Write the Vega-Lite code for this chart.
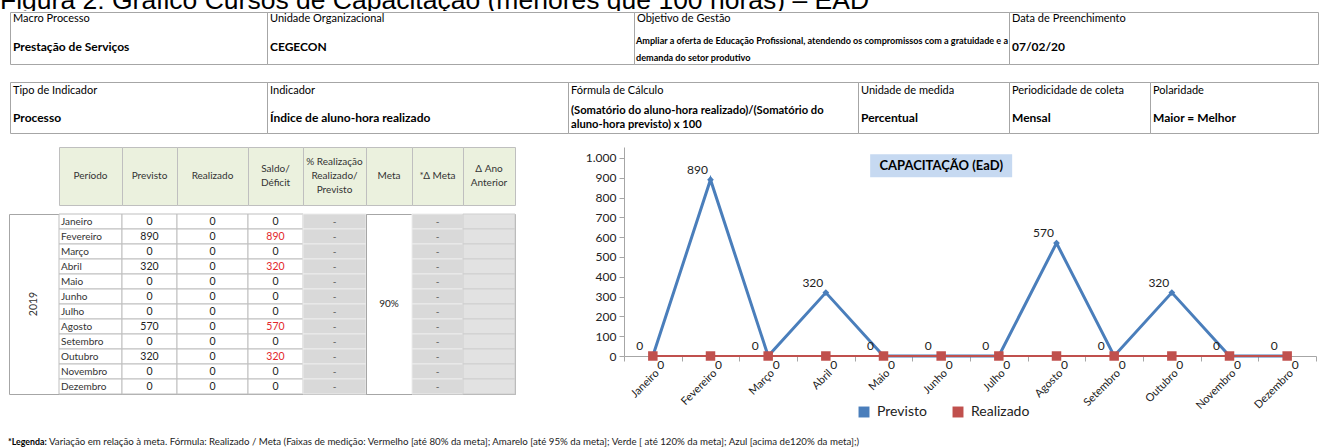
{
"$schema": "https://vega.github.io/schema/vega-lite/v6.json",
"padding": 0,
"background": "white",
"spacing": 0,
"config": {"view": {"stroke": "#A6A6A6"}, "concat": {"spacing": 0}, "font": "Lato", "axis": {"labelFont": "Lato"}, "axisY": {"tickCount": 11, "labelOverlap": false}, "legend": {"labelFont": "Lato"}},
"datasets": {
"meses": [
{"periodo": "Janeiro", "previsto": 0, "realizado": 0, "saldo": 0, "pct": "-", "dmeta": "-"},
{"periodo": "Fevereiro", "previsto": 890, "realizado": 0, "saldo": 890, "pct": "-", "dmeta": "-"},
{"periodo": "Março", "previsto": 0, "realizado": 0, "saldo": 0, "pct": "-", "dmeta": "-"},
{"periodo": "Abril", "previsto": 320, "realizado": 0, "saldo": 320, "pct": "-", "dmeta": "-"},
{"periodo": "Maio", "previsto": 0, "realizado": 0, "saldo": 0, "pct": "-", "dmeta": "-"},
{"periodo": "Junho", "previsto": 0, "realizado": 0, "saldo": 0, "pct": "-", "dmeta": "-"},
{"periodo": "Julho", "previsto": 0, "realizado": 0, "saldo": 0, "pct": "-", "dmeta": "-"},
{"periodo": "Agosto", "previsto": 570, "realizado": 0, "saldo": 570, "pct": "-", "dmeta": "-"},
{"periodo": "Setembro", "previsto": 0, "realizado": 0, "saldo": 0, "pct": "-", "dmeta": "-"},
{"periodo": "Outubro", "previsto": 320, "realizado": 0, "saldo": 320, "pct": "-", "dmeta": "-"},
{"periodo": "Novembro", "previsto": 0, "realizado": 0, "saldo": 0, "pct": "-", "dmeta": "-"},
{"periodo": "Dezembro", "previsto": 0, "realizado": 0, "saldo": 0, "pct": "-", "dmeta": "-"}
],
"serie": [
{"mes": "Janeiro", "serie": "Previsto", "valor": 0},
{"mes": "Fevereiro", "serie": "Previsto", "valor": 890},
{"mes": "Março", "serie": "Previsto", "valor": 0},
{"mes": "Abril", "serie": "Previsto", "valor": 320},
{"mes": "Maio", "serie": "Previsto", "valor": 0},
{"mes": "Junho", "serie": "Previsto", "valor": 0},
{"mes": "Julho", "serie": "Previsto", "valor": 0},
{"mes": "Agosto", "serie": "Previsto", "valor": 570},
{"mes": "Setembro", "serie": "Previsto", "valor": 0},
{"mes": "Outubro", "serie": "Previsto", "valor": 320},
{"mes": "Novembro", "serie": "Previsto", "valor": 0},
{"mes": "Dezembro", "serie": "Previsto", "valor": 0},
{"mes": "Janeiro", "serie": "Realizado", "valor": 0},
{"mes": "Fevereiro", "serie": "Realizado", "valor": 0},
{"mes": "Março", "serie": "Realizado", "valor": 0},
{"mes": "Abril", "serie": "Realizado", "valor": 0},
{"mes": "Maio", "serie": "Realizado", "valor": 0},
{"mes": "Junho", "serie": "Realizado", "valor": 0},
{"mes": "Julho", "serie": "Realizado", "valor": 0},
{"mes": "Agosto", "serie": "Realizado", "valor": 0},
{"mes": "Setembro", "serie": "Realizado", "valor": 0},
{"mes": "Outubro", "serie": "Realizado", "valor": 0},
{"mes": "Novembro", "serie": "Realizado", "valor": 0},
{"mes": "Dezembro", "serie": "Realizado", "valor": 0}
]
},
"vconcat": [
{"width": 1318, "height": 11, "view": {"stroke": null},
 "data": {"values": [{"t": "Figura 2: Gráfico Cursos de Capacitação (menores que 100 horas) – EAD"}]},
 "mark": {"type": "text", "align": "left", "baseline": "alphabetic", "font": "Liberation Sans", "fontSize": 26.5, "dy": 3.5, "clip": true, "color": "#000"},
 "encoding": {"text": {"field": "t"}, "x": {"datum": 0, "type": "quantitative", "scale": {"domain": [0, 1]}, "axis": null}}},
{"spacing": 0, "bounds": "flush", "hconcat": [
 {"width": 10, "height": 52, "view": {"stroke": null}, "data": {"values": [{}]}, "mark": "text", "encoding": {"text": {"value": ""}}},
 {"width": 257, "height": 52, "data": {"values": [{"l": "Macro Processo", "v": "Prestação de Serviços"}]},
  "encoding": {"x": {"datum": 0, "type": "quantitative", "scale": {"domain": [0, 1]}, "axis": null}},
  "layer": [
   {"mark": {"type": "text", "align": "left", "baseline": "middle", "dx": 3, "dy": -19, "fontSize": 11, "color": "#000"}, "encoding": {"text": {"field": "l"}}},
   {"mark": {"type": "text", "align": "left", "baseline": "middle", "dx": 3, "dy": 9, "fontSize": 12, "fontWeight": "bold", "color": "#000"}, "encoding": {"text": {"field": "v"}}}
  ]},
 {"width": 367, "height": 52, "data": {"values": [{"l": "Unidade Organizacional", "v": "CEGECON"}]},
  "encoding": {"x": {"datum": 0, "type": "quantitative", "scale": {"domain": [0, 1]}, "axis": null}},
  "layer": [
   {"mark": {"type": "text", "align": "left", "baseline": "middle", "dx": 3, "dy": -19, "fontSize": 11, "color": "#000"}, "encoding": {"text": {"field": "l"}}},
   {"mark": {"type": "text", "align": "left", "baseline": "middle", "dx": 3, "dy": 9, "fontSize": 12, "fontWeight": "bold", "color": "#000"}, "encoding": {"text": {"field": "v"}}}
  ]},
 {"width": 375, "height": 52, "data": {"values": [{"l": "Objetivo de Gestão", "v": "Ampliar a oferta de Educação Profissional, atendendo os compromissos com a gratuidade e a\ndemanda do setor produtivo"}]},
  "encoding": {"x": {"datum": 0, "type": "quantitative", "scale": {"domain": [0, 1]}, "axis": null}},
  "layer": [
   {"mark": {"type": "text", "align": "left", "baseline": "middle", "dx": 3, "dy": -19, "fontSize": 11, "color": "#000"}, "encoding": {"text": {"field": "l"}}},
   {"mark": {"type": "text", "align": "left", "baseline": "middle", "dx": 2, "dy": 3, "fontSize": 9.1, "fontWeight": "bold", "lineBreak": "\n", "lineHeight": 17, "color": "#000"}, "encoding": {"text": {"field": "v"}}}
  ]},
 {"width": 309, "height": 52, "data": {"values": [{"l": "Data de Preenchimento", "v": "07/02/20"}]},
  "encoding": {"x": {"datum": 0, "type": "quantitative", "scale": {"domain": [0, 1]}, "axis": null}},
  "layer": [
   {"mark": {"type": "text", "align": "left", "baseline": "middle", "dx": 3, "dy": -19, "fontSize": 11, "color": "#000"}, "encoding": {"text": {"field": "l"}}},
   {"mark": {"type": "text", "align": "left", "baseline": "middle", "dx": 3, "dy": 9, "fontSize": 12, "fontWeight": "bold", "color": "#000"}, "encoding": {"text": {"field": "v"}}}
  ]}
]},
{"width": 10, "height": 16, "view": {"stroke": null}, "data": {"values": [{}]}, "mark": "text", "encoding": {"text": {"value": ""}}},
{"spacing": 0, "bounds": "flush", "hconcat": [
 {"width": 10, "height": 51, "view": {"stroke": null}, "data": {"values": [{}]}, "mark": "text", "encoding": {"text": {"value": ""}}},
 {"width": 257, "height": 51, "data": {"values": [{"l": "Tipo de Indicador", "v": "Processo"}]},
  "encoding": {"x": {"datum": 0, "type": "quantitative", "scale": {"domain": [0, 1]}, "axis": null}},
  "layer": [
   {"mark": {"type": "text", "align": "left", "baseline": "middle", "dx": 3, "dy": -16.5, "fontSize": 11, "color": "#000"}, "encoding": {"text": {"field": "l"}}},
   {"mark": {"type": "text", "align": "left", "baseline": "middle", "dx": 3, "dy": 10.5, "fontSize": 12, "fontWeight": "bold", "color": "#000"}, "encoding": {"text": {"field": "v"}}}
  ]},
 {"width": 301, "height": 51, "data": {"values": [{"l": "Indicador", "v": "Índice de aluno-hora realizado"}]},
  "encoding": {"x": {"datum": 0, "type": "quantitative", "scale": {"domain": [0, 1]}, "axis": null}},
  "layer": [
   {"mark": {"type": "text", "align": "left", "baseline": "middle", "dx": 3, "dy": -16.5, "fontSize": 11, "color": "#000"}, "encoding": {"text": {"field": "l"}}},
   {"mark": {"type": "text", "align": "left", "baseline": "middle", "dx": 3, "dy": 10.5, "fontSize": 12, "fontWeight": "bold", "color": "#000"}, "encoding": {"text": {"field": "v"}}}
  ]},
 {"width": 290, "height": 51, "data": {"values": [{"l": "Fórmula  de Cálculo", "v": "(Somatório do aluno-hora realizado)/(Somatório do\naluno-hora previsto) x 100"}]},
  "encoding": {"x": {"datum": 0, "type": "quantitative", "scale": {"domain": [0, 1]}, "axis": null}},
  "layer": [
   {"mark": {"type": "text", "align": "left", "baseline": "middle", "dx": 3, "dy": -16.5, "fontSize": 11, "color": "#000"}, "encoding": {"text": {"field": "l"}}},
   {"mark": {"type": "text", "align": "left", "baseline": "middle", "dx": 3, "dy": 3, "fontSize": 11.2, "fontWeight": "bold", "lineBreak": "\n", "lineHeight": 14, "color": "#000"}, "encoding": {"text": {"field": "v"}}}
  ]},
 {"width": 151, "height": 51, "data": {"values": [{"l": "Unidade de medida", "v": "Percentual"}]},
  "encoding": {"x": {"datum": 0, "type": "quantitative", "scale": {"domain": [0, 1]}, "axis": null}},
  "layer": [
   {"mark": {"type": "text", "align": "left", "baseline": "middle", "dx": 3, "dy": -16.5, "fontSize": 11, "color": "#000"}, "encoding": {"text": {"field": "l"}}},
   {"mark": {"type": "text", "align": "left", "baseline": "middle", "dx": 3, "dy": 10.5, "fontSize": 12, "fontWeight": "bold", "color": "#000"}, "encoding": {"text": {"field": "v"}}}
  ]},
 {"width": 141, "height": 51, "data": {"values": [{"l": "Periodicidade de coleta", "v": "Mensal"}]},
  "encoding": {"x": {"datum": 0, "type": "quantitative", "scale": {"domain": [0, 1]}, "axis": null}},
  "layer": [
   {"mark": {"type": "text", "align": "left", "baseline": "middle", "dx": 3, "dy": -16.5, "fontSize": 11, "color": "#000"}, "encoding": {"text": {"field": "l"}}},
   {"mark": {"type": "text", "align": "left", "baseline": "middle", "dx": 3, "dy": 10.5, "fontSize": 12, "fontWeight": "bold", "color": "#000"}, "encoding": {"text": {"field": "v"}}}
  ]},
 {"width": 168, "height": 51, "data": {"values": [{"l": "Polaridade", "v": "Maior = Melhor"}]},
  "encoding": {"x": {"datum": 0, "type": "quantitative", "scale": {"domain": [0, 1]}, "axis": null}},
  "layer": [
   {"mark": {"type": "text", "align": "left", "baseline": "middle", "dx": 3, "dy": -16.5, "fontSize": 11, "color": "#000"}, "encoding": {"text": {"field": "l"}}},
   {"mark": {"type": "text", "align": "left", "baseline": "middle", "dx": 3, "dy": 10.5, "fontSize": 12, "fontWeight": "bold", "color": "#000"}, "encoding": {"text": {"field": "v"}}}
  ]}
]},
{"width": 10, "height": 12, "view": {"stroke": null}, "data": {"values": [{}]}, "mark": "text", "encoding": {"text": {"value": ""}}},
{"spacing": 0, "hconcat": [
 {"width": 8, "height": 10, "view": {"stroke": null}, "data": {"values": [{}]}, "mark": "text", "encoding": {"text": {"value": ""}}},
 {"spacing": 7, "vconcat": [
  {"spacing": 0, "bounds": "flush", "hconcat": [
   {"width": 50, "height": 58, "view": {"stroke": null}, "data": {"values": [{}]}, "mark": "text", "encoding": {"text": {"value": ""}}},
   {"width": 63, "height": 58, "view": {"fill": "#EBF1DE", "stroke": "#BFBFBF"}, "data": {"values": [{"h": "Período"}]}, "mark": {"type": "text", "fontSize": 10, "color": "#333", "lineBreak": "\n", "lineHeight": 14}, "encoding": {"text": {"field": "h"}}},
   {"width": 55, "height": 58, "view": {"fill": "#EBF1DE", "stroke": "#BFBFBF"}, "data": {"values": [{"h": "Previsto"}]}, "mark": {"type": "text", "fontSize": 10, "color": "#333", "lineBreak": "\n", "lineHeight": 14}, "encoding": {"text": {"field": "h"}}},
   {"width": 71, "height": 58, "view": {"fill": "#EBF1DE", "stroke": "#BFBFBF"}, "data": {"values": [{"h": "Realizado"}]}, "mark": {"type": "text", "fontSize": 10, "color": "#333", "lineBreak": "\n", "lineHeight": 14}, "encoding": {"text": {"field": "h"}}},
   {"width": 55, "height": 58, "view": {"fill": "#EBF1DE", "stroke": "#BFBFBF"}, "data": {"values": [{"h": "Saldo/\nDéficit"}]}, "mark": {"type": "text", "fontSize": 10, "color": "#333", "lineBreak": "\n", "lineHeight": 14, "dy": -7}, "encoding": {"text": {"field": "h"}}},
   {"width": 63, "height": 58, "view": {"fill": "#EBF1DE", "stroke": "#BFBFBF"}, "data": {"values": [{"h": "% Realização\nRealizado/\nPrevisto"}]}, "mark": {"type": "text", "fontSize": 10, "color": "#333", "lineBreak": "\n", "lineHeight": 14, "dy": -14}, "encoding": {"text": {"field": "h"}}},
   {"width": 46, "height": 58, "view": {"fill": "#EBF1DE", "stroke": "#BFBFBF"}, "data": {"values": [{"h": "Meta"}]}, "mark": {"type": "text", "fontSize": 10, "color": "#333", "lineBreak": "\n", "lineHeight": 14}, "encoding": {"text": {"field": "h"}}},
   {"width": 51, "height": 58, "view": {"fill": "#EBF1DE", "stroke": "#BFBFBF"}, "data": {"values": [{"h": "*Δ Meta"}]}, "mark": {"type": "text", "fontSize": 10, "color": "#333", "lineBreak": "\n", "lineHeight": 14}, "encoding": {"text": {"field": "h"}}},
   {"width": 52, "height": 58, "view": {"fill": "#EBF1DE", "stroke": "#BFBFBF"}, "data": {"values": [{"h": "Δ Ano\nAnterior"}]}, "mark": {"type": "text", "fontSize": 10, "color": "#333", "lineBreak": "\n", "lineHeight": 14, "dy": -7}, "encoding": {"text": {"field": "h"}}}
  ]},
  {"spacing": 0, "bounds": "flush", "hconcat": [
   {"width": 50, "height": 180, "view": {"stroke": "#A6A6A6"}, "data": {"values": [{"ano": "2019"}]}, "mark": {"type": "text", "angle": 270, "fontSize": 10.5, "color": "#333"}, "encoding": {"text": {"field": "ano"}}},
   {"width": 63, "height": 180, "data": {"name": "meses"},
    "layer": [
     {"mark": {"type": "rect", "fill": "white", "stroke": "#BFBFBF"}, "encoding": {"y": {"field": "periodo", "type": "nominal", "sort": null, "axis": null, "scale": {"paddingInner": 0, "paddingOuter": 0}}}},
     {"mark": {"type": "text", "align": "left", "dx": 2, "fontSize": 10, "color": "#333"}, "encoding": {"y": {"field": "periodo", "type": "nominal", "sort": null, "axis": null, "scale": {"paddingInner": 0, "paddingOuter": 0}}, "x": {"datum": 0, "type": "quantitative", "scale": {"domain": [0, 1]}, "axis": null}, "text": {"field": "periodo"}}}
    ]},
   {"width": 55, "height": 180, "data": {"name": "meses"},
    "layer": [
     {"mark": {"type": "rect", "fill": "white", "stroke": "#BFBFBF"}, "encoding": {"y": {"field": "periodo", "type": "nominal", "sort": null, "axis": null, "scale": {"paddingInner": 0, "paddingOuter": 0}}}},
     {"mark": {"type": "text", "fontSize": 10.5, "color": "#222"}, "encoding": {"y": {"field": "periodo", "type": "nominal", "sort": null, "axis": null, "scale": {"paddingInner": 0, "paddingOuter": 0}}, "text": {"field": "previsto"}}}
    ]},
   {"width": 71, "height": 180, "data": {"name": "meses"},
    "layer": [
     {"mark": {"type": "rect", "fill": "white", "stroke": "#BFBFBF"}, "encoding": {"y": {"field": "periodo", "type": "nominal", "sort": null, "axis": null, "scale": {"paddingInner": 0, "paddingOuter": 0}}}},
     {"mark": {"type": "text", "fontSize": 10.5, "color": "#222"}, "encoding": {"y": {"field": "periodo", "type": "nominal", "sort": null, "axis": null, "scale": {"paddingInner": 0, "paddingOuter": 0}}, "text": {"field": "realizado"}}}
    ]},
   {"width": 55, "height": 180, "data": {"name": "meses"},
    "layer": [
     {"mark": {"type": "rect", "fill": "white", "stroke": "#BFBFBF"}, "encoding": {"y": {"field": "periodo", "type": "nominal", "sort": null, "axis": null, "scale": {"paddingInner": 0, "paddingOuter": 0}}}},
     {"mark": {"type": "text", "fontSize": 10.5}, "encoding": {"y": {"field": "periodo", "type": "nominal", "sort": null, "axis": null, "scale": {"paddingInner": 0, "paddingOuter": 0}}, "text": {"field": "saldo"}, "color": {"condition": {"test": "datum.saldo != 0", "value": "#E3262B"}, "value": "#222"}}}
    ]},
   {"width": 63, "height": 180, "data": {"name": "meses"},
    "layer": [
     {"mark": {"type": "rect", "fill": "#D9D9D9", "stroke": "#ECECEC"}, "encoding": {"y": {"field": "periodo", "type": "nominal", "sort": null, "axis": null, "scale": {"paddingInner": 0, "paddingOuter": 0}}}},
     {"mark": {"type": "text", "fontSize": 10, "color": "#555"}, "encoding": {"y": {"field": "periodo", "type": "nominal", "sort": null, "axis": null, "scale": {"paddingInner": 0, "paddingOuter": 0}}, "text": {"field": "pct"}}}
    ]},
   {"width": 46, "height": 180, "view": {"stroke": "#A6A6A6"}, "data": {"values": [{"m": "90%"}]}, "mark": {"type": "text", "fontSize": 10, "color": "#222"}, "encoding": {"text": {"field": "m"}}},
   {"width": 51, "height": 180, "data": {"name": "meses"},
    "layer": [
     {"mark": {"type": "rect", "fill": "#D9D9D9", "stroke": "#ECECEC"}, "encoding": {"y": {"field": "periodo", "type": "nominal", "sort": null, "axis": null, "scale": {"paddingInner": 0, "paddingOuter": 0}}}},
     {"mark": {"type": "text", "fontSize": 10, "color": "#555"}, "encoding": {"y": {"field": "periodo", "type": "nominal", "sort": null, "axis": null, "scale": {"paddingInner": 0, "paddingOuter": 0}}, "text": {"field": "dmeta"}}}
    ]},
   {"width": 52, "height": 180, "data": {"name": "meses"},
    "layer": [
     {"mark": {"type": "rect", "fill": "#E2E2E2", "stroke": "#CFCFCF"}, "encoding": {"y": {"field": "periodo", "type": "nominal", "sort": null, "axis": null, "scale": {"paddingInner": 0, "paddingOuter": 0}}}}
    ]}
  ]}
 ]},
 {"width": 69, "height": 10, "view": {"stroke": null}, "data": {"values": [{}]}, "mark": "text", "encoding": {"text": {"value": ""}}},
 {"width": 692, "height": 209, "view": {"stroke": null}, "data": {"name": "serie"},
  "layer": [
   {"transform": [{"filter": "datum.serie == 'Previsto'"}],
    "mark": {"type": "line", "strokeWidth": 3},
    "encoding": {
     "x": {"field": "mes", "type": "nominal", "sort": null, "scale": {"type": "band", "domain": ["Janeiro","Fevereiro","Março","Abril","Maio","Junho","Julho","Agosto","Setembro","Outubro","Novembro","Dezembro"], "paddingInner": 0, "paddingOuter": 0},
      "axis": {"title": null, "labelAngle": -45, "labelAlign": "right", "labelBaseline": "top", "tickBand": "extent", "tickSize": 5, "tickColor": "#A6A6A6", "domainColor": "#A6A6A6", "labelFontSize": 11, "labelColor": "#222", "labelPadding": 6, "grid": false}},
     "y": {"field": "valor", "type": "quantitative", "scale": {"domain": [0, 1055], "nice": false},
      "axis": {"title": null, "values": [0,100,200,300,400,500,600,700,800,900,1000], "tickCount": 11, "labelOverlap": false, "labelExpr": "replace(format(datum.value, ','), ',', '.')", "tickSize": 5, "tickColor": "#A6A6A6", "domainColor": "#A6A6A6", "labelFontSize": 12, "labelColor": "#222", "labelPadding": 3, "grid": false}},
     "stroke": {"field": "serie", "type": "nominal", "scale": {"domain": ["Previsto","Realizado"], "range": ["#4A7EBB","#C0504D"]},
      "legend": {"orient": "none", "legendX": 857, "legendY": 405, "direction": "horizontal", "title": null, "symbolType": "square", "symbolSize": 120, "symbolStrokeWidth": 0, "labelFontSize": 14, "labelColor": "#222", "columnPadding": 24, "labelOffset": 6}}
    }},
   {"transform": [{"filter": "datum.serie == 'Previsto'"}],
    "mark": {"type": "point", "shape": "diamond", "filled": true, "size": 45, "opacity": 1},
    "encoding": {
     "x": {"field": "mes", "type": "nominal", "sort": null},
     "y": {"field": "valor", "type": "quantitative"},
     "fill": {"field": "serie", "type": "nominal", "scale": {"domain": ["Previsto","Realizado"], "range": ["#4A7EBB","#C0504D"]},
      "legend": {"orient": "none", "legendX": 857, "legendY": 405, "direction": "horizontal", "title": null, "symbolType": "square", "symbolSize": 120, "symbolStrokeWidth": 0, "labelFontSize": 14, "labelColor": "#222", "columnPadding": 24, "labelOffset": 6}}
    }},
   {"transform": [{"filter": "datum.serie == 'Realizado'"}],
    "mark": {"type": "line", "strokeWidth": 2},
    "encoding": {
     "x": {"field": "mes", "type": "nominal", "sort": null},
     "y": {"field": "valor", "type": "quantitative"},
     "stroke": {"field": "serie", "type": "nominal"}
    }},
   {"transform": [{"filter": "datum.serie == 'Realizado'"}],
    "mark": {"type": "point", "shape": "square", "filled": true, "size": 90, "opacity": 1},
    "encoding": {
     "x": {"field": "mes", "type": "nominal", "sort": null},
     "y": {"field": "valor", "type": "quantitative"},
     "fill": {"field": "serie", "type": "nominal"}
    }},
   {"transform": [{"filter": "datum.serie == 'Previsto'"}],
    "mark": {"type": "text", "dx": -13, "dy": -10, "fontSize": 12, "color": "#222"},
    "encoding": {
     "x": {"field": "mes", "type": "nominal", "sort": null},
     "y": {"field": "valor", "type": "quantitative"},
     "text": {"field": "valor", "type": "quantitative"}
    }},
   {"transform": [{"filter": "datum.serie == 'Realizado'"}],
    "mark": {"type": "text", "dx": 8, "dy": 9, "fontSize": 12, "color": "#222"},
    "encoding": {
     "x": {"field": "mes", "type": "nominal", "sort": null},
     "y": {"field": "valor", "type": "quantitative"},
     "text": {"field": "valor", "type": "quantitative"}
    }},
   {"data": {"values": [{"t": "CAPACITAÇÃO (EaD)"}]},
    "mark": {"type": "point", "shape": "M-1,-0.162H1V0.162H-1Z", "filled": true, "fill": "#C6D9F1", "size": 20164, "opacity": 1, "strokeWidth": 0},
    "encoding": {"x": {"datum": "Junho", "type": "nominal"}, "y": {"datum": 960, "type": "quantitative"}}},
   {"data": {"values": [{"t": "CAPACITAÇÃO (EaD)"}]},
    "mark": {"type": "text", "fontSize": 13, "fontWeight": "bold", "color": "#000"},
    "encoding": {"x": {"datum": "Junho", "type": "nominal"}, "y": {"datum": 960, "type": "quantitative"}, "text": {"field": "t"}}}
  ]}
]},
{"width": 10, "height": 26, "view": {"stroke": null}, "data": {"values": [{}]}, "mark": "text", "encoding": {"text": {"value": ""}}},
{"width": 1318, "height": 10, "view": {"stroke": null},
 "data": {"values": [{"a": "*Legenda:", "b": "Variação em relação à meta. Fórmula: Realizado / Meta (Faixas de medição: Vermelho [até 80% da meta]; Amarelo [até 95% da meta]; Verde [ até 120% da meta]; Azul [acima de120% da meta];)"}]},
 "encoding": {"x": {"datum": 0, "type": "quantitative", "scale": {"domain": [0, 1]}, "axis": null}},
 "layer": [
  {"mark": {"type": "text", "align": "left", "baseline": "middle", "dx": 8, "fontSize": 8.8, "fontWeight": "bold", "color": "#000"}, "encoding": {"text": {"field": "a"}}},
  {"mark": {"type": "text", "align": "left", "baseline": "middle", "dx": 49, "fontSize": 9.7, "color": "#222"}, "encoding": {"text": {"field": "b"}}}
 ]}
]
}
